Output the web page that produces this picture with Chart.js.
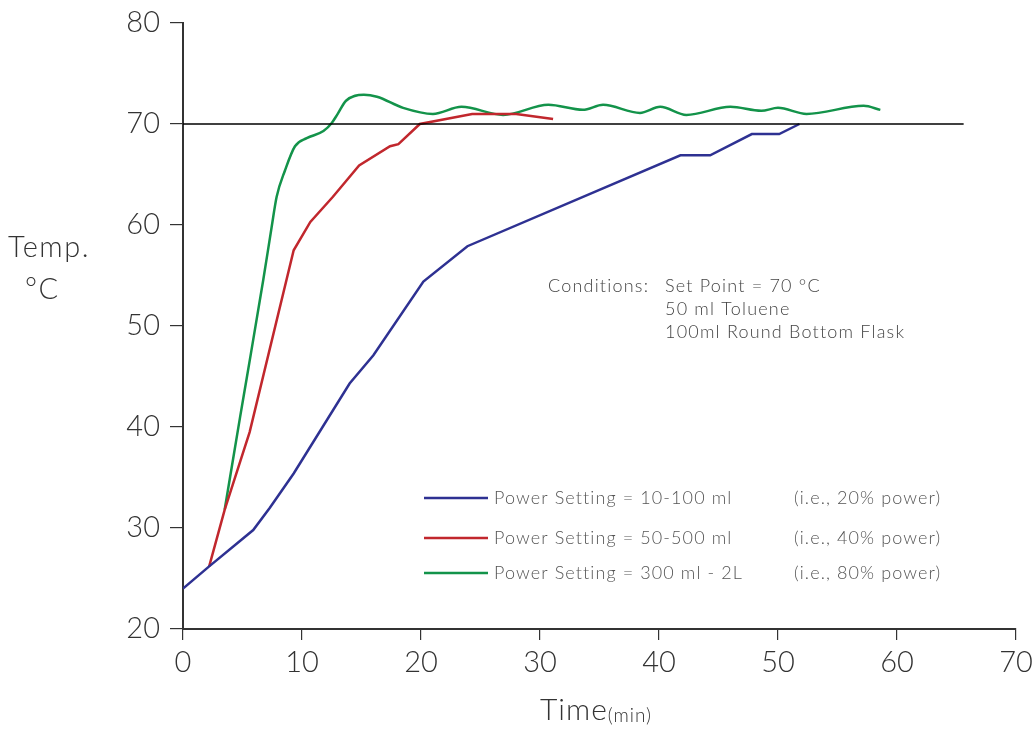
<!DOCTYPE html>
<html>
<head>
<meta charset="utf-8">
<script src="https://cdn.jsdelivr.net/npm/chart.js@4/dist/chart.umd.min.js"></script>
<style>
  html, body { margin: 0; padding: 0; background: #fff; }
  #wrap { width: 1032px; height: 729px; position: relative; }
</style>
</head>
<body>
<div id="wrap"><canvas id="tempChart" width="1032" height="729"></canvas></div>
<script>
// data (time in min, temp in °C)
const xTicks = [0, 10, 20, 30, 40, 50, 60, 70];
const yTicks = [20, 30, 40, 50, 60, 70, 80];

const blueTime = [0, 2.2, 5.9, 7.3, 9.3, 14.0, 16.0, 20.2, 23.9, 41.8, 44.3, 47.8, 50.1, 51.8];
const blueTemp = [24.0, 26.2, 29.8, 32.0, 35.4, 44.3, 47.1, 54.4, 57.9, 66.9, 66.9, 69.0, 69.0, 70.0];

const redTime = [2.2, 3.5, 5.6, 9.3, 10.7, 12.6, 14.8, 17.4, 18.1, 19.9, 24.3, 28.0, 31.1];
const redTemp = [26.2, 31.8, 39.5, 57.5, 60.3, 62.8, 65.9, 67.8, 68.0, 70.0, 71.0, 71.0, 70.5];

const greenTime = [3.5, 4.8, 5.35, 6.75, 7.45, 7.87, 8.57, 9.41, 10.4, 11.8, 12.5, 13.0, 13.7, 15.2, 16.3, 18.5, 21.0, 23.4, 26.9, 30.7, 33.6, 35.3, 38.4, 40.1, 42.3, 46.0, 48.6, 50.0, 52.4, 57.2, 58.6];
const greenTemp = [31.8, 41.0, 44.8, 54.6, 59.8, 62.8, 65.4, 67.8, 68.6, 69.3, 70.1, 71.0, 72.3, 72.9, 72.7, 71.6, 71.0, 71.7, 70.9, 71.9, 71.4, 71.9, 71.1, 71.7, 70.9, 71.7, 71.3, 71.6, 71.0, 71.8, 71.4];

const setPointTime = [0, 65.6];
const setPointTemp = [70, 70];

const legendLabels = ['Power Setting = 10-100 ml', 'Power Setting = 50-500 ml', 'Power Setting = 300 ml - 2L'];
const legendNotes = ['(i.e., 20% power)', '(i.e., 40% power)', '(i.e., 80% power)'];
const conditionLines = ['Set Point = 70 °C', '50 ml Toluene', '100ml Round Bottom Flask'];

const BLUE = '#2e3192';
const RED = '#c1272d';
const GREEN = '#13934a';
const FONT = "Lato, 'Open Sans', sans-serif";

function pairs(xs, ys) {
    return xs.map((x, i) => ({ x: x, y: ys[i] }));
}

// texts that sit inside / around the plot
const annotations = {
    id: 'annotations',
    afterDraw(chart) {
        const ctx = chart.ctx;
        ctx.save();
        ctx.textBaseline = 'middle';

        // legend
        const colors = [BLUE, RED, GREEN];
        const rows = [498, 538, 573];
        ctx.font = '300 18px ' + FONT;
        ctx.letterSpacing = '1.1px';
        rows.forEach((y, i) => {
            ctx.strokeStyle = colors[i];
            ctx.lineWidth = 2.5;
            ctx.beginPath();
            ctx.moveTo(424, y);
            ctx.lineTo(488, y);
            ctx.stroke();
            ctx.fillStyle = '#555';
            ctx.textAlign = 'left';
            ctx.fillText(legendLabels[i], 494, y);
            ctx.fillText(legendNotes[i], 794, y);
        });

        // conditions block
        ctx.fillStyle = '#444';
        ctx.letterSpacing = '1.2px';
        ctx.fillText('Conditions:', 548, 286);
        conditionLines.forEach((t, i) => ctx.fillText(t, 665, 286 + i * 23));

        // y title
        ctx.font = '300 29px ' + FONT;
        ctx.letterSpacing = '1.5px';
        ctx.fillStyle = '#333';
        ctx.textAlign = 'left';
        ctx.fillText('Temp.', 8, 248);
        ctx.fillText('°C', 25, 290);

        // x title
        ctx.letterSpacing = '1px';
        ctx.font = '300 30px ' + FONT;
        const w1 = ctx.measureText('Time').width;
        ctx.font = '300 19px ' + FONT;
        const w2 = ctx.measureText('(min)').width;
        const start = 596 - (w1 + w2) / 2;
        ctx.font = '300 30px ' + FONT;
        ctx.fillText('Time', start, 710);
        ctx.font = '300 19px ' + FONT;
        ctx.fillText('(min)', start + w1, 716);
        ctx.restore();
    }
};

const tempCanvas = document.getElementById('tempChart');
if (tempCanvas) {
    const tempCtx = tempCanvas.getContext('2d');
    const tempChart = new Chart(tempCtx, {
        type: 'line',
        data: {
            datasets: [
                {
                    label: 'Set point',
                    data: pairs(setPointTime, setPointTemp),
                    borderColor: '#000',
                    borderWidth: 1.5,
                    pointRadius: 0,
                    tension: 0
                },
                {
                    label: legendLabels[0],
                    data: pairs(blueTime, blueTemp),
                    borderColor: BLUE,
                    borderWidth: 2.5,
                    pointRadius: 0,
                    tension: 0
                },
                {
                    label: legendLabels[1],
                    data: pairs(redTime, redTemp),
                    borderColor: RED,
                    borderWidth: 2.5,
                    pointRadius: 0,
                    tension: 0
                },
                {
                    label: legendLabels[2],
                    data: pairs(greenTime, greenTemp),
                    borderColor: GREEN,
                    borderWidth: 2.5,
                    pointRadius: 0,
                    cubicInterpolationMode: 'monotone'
                }
            ]
        },
        options: {
            responsive: false,
            animation: false,
            layout: {
                padding: { left: 0, top: 0, right: 0, bottom: 0 }
            },
            plugins: {
                legend: { display: false },
                tooltip: { enabled: false }
            },
            scales: {
                x: {
                    type: 'linear',
                    min: 0,
                    max: 70,
                    afterFit: function(scale) {
                        scale.height = 100;
                        scale.paddingLeft = 0;
                        scale.paddingRight = 16;
                    },
                    afterBuildTicks: function(scale) { scale.ticks = xTicks.map(v => ({ value: v })); },
                    border: { display: true, color: '#333', width: 2 },
                    grid: {
                        drawOnChartArea: false,
                        drawTicks: true,
                        tickLength: 11,
                        color: '#333',
                        lineWidth: 1.2
                    },
                    ticks: {
                        color: '#333',
                        padding: 5,
                        maxRotation: 0,
                        font: { family: FONT, size: 29, weight: '300' }
                    }
                },
                y: {
                    type: 'linear',
                    min: 20,
                    max: 80,
                    afterFit: function(scale) {
                        scale.width = 183;
                        scale.paddingTop = 23;
                        scale.paddingBottom = 0;
                    },
                    afterBuildTicks: function(scale) { scale.ticks = yTicks.map(v => ({ value: v })); },
                    border: { display: true, color: '#333', width: 2 },
                    grid: {
                        drawOnChartArea: false,
                        drawTicks: true,
                        tickLength: 13,
                        color: '#333',
                        lineWidth: 1.2
                    },
                    ticks: {
                        color: '#333',
                        padding: 10,
                        font: { family: FONT, size: 29, weight: '300' }
                    }
                }
            }
        },
        plugins: [annotations]
    });
}
</script>
</body>
</html>
